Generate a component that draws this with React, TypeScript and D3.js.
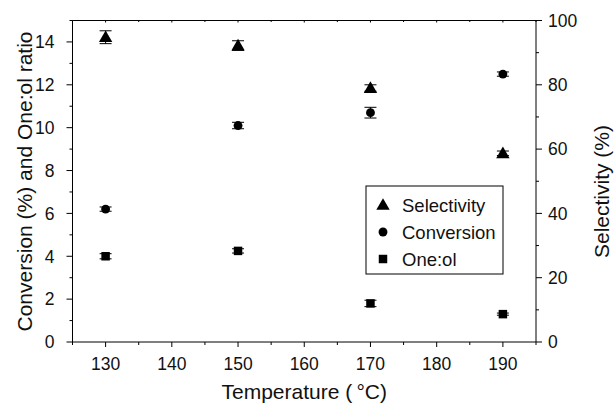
import * as d3 from "d3";
import React from "react";

// values
const temperatures = [130, 150, 170, 190];
const selectivity = [94.8, 92.2, 79.0, 58.7];
const selectivityErr = [2.0, 1.5, 1.0, 0.7];
const conversion = [6.2, 10.1, 10.7, 12.5];
const conversionErr = [0.1, 0.15, 0.25, 0.1];
const oneol = [4.0, 4.25, 1.8, 1.3];
const oneolErr = [0.12, 0.1, 0.15, 0.05];

const xMajor = [130, 140, 150, 160, 170, 180, 190];
const leftMajor = [0, 2, 4, 6, 8, 10, 12, 14];
const rightMajor = [0, 20, 40, 60, 80, 100];
const legendLabels = ["Selectivity", "Conversion", "One:ol"];

const font = "'Liberation Sans', Arial, sans-serif";

export default function App() {
  const width = 615;
  const height = 405;
  const marginLeft = 72.5;
  const marginRight = 79;
  const marginTop = 20.5;
  const marginBottom = 63;

  const x = d3.scaleLinear().domain([125, 195]).range([marginLeft, width - marginRight]);
  const yL = d3.scaleLinear().domain([0, 15]).range([height - marginBottom, marginTop]);
  const yR = d3.scaleLinear().domain([0, 100]).range([height - marginBottom, marginTop]);

  const x0 = x.range()[0];
  const x1 = x.range()[1];
  const yb = yL.range()[0];
  const yt = yL.range()[1];

  const xMinor = d3.range(125, 196, 5);
  const leftMinor = d3.range(0, 15.01, 1);
  const rightMinor = d3.range(0, 100.1, 10);

  const tri = d3.symbol(d3.symbolTriangle, 78)();
  const circ = d3.symbol(d3.symbolCircle, 62)();
  const sq = d3.symbol(d3.symbolSquare, 72)();

  const errBar = (cx: number, lo: number, hi: number, key: string) => (
    <g key={key} stroke="#000" strokeWidth={1}>
      <line x1={cx} x2={cx} y1={lo} y2={hi} />
      <line x1={cx - 6} x2={cx + 6} y1={lo} y2={lo} />
      <line x1={cx - 6} x2={cx + 6} y1={hi} y2={hi} />
    </g>
  );

  return (
    <svg
      width={width}
      height={height}
      style={{ position: "absolute", left: 0, top: 0, background: "#fff" }}
      fontFamily={font}
    >
      {/* frame */}
      <g stroke="#000" strokeWidth={1} fill="none">
        <line x1={x0} x2={x1} y1={yb} y2={yb} />
        <line x1={x0} x2={x1} y1={yt} y2={yt} />
        <line x1={x0} x2={x0} y1={yt} y2={yb} />
        <line x1={x1} x2={x1} y1={yt} y2={yb} />
      </g>

      {/* ticks */}
      <g stroke="#000" strokeWidth={1}>
        {xMinor.map((t) => {
          const major = xMajor.includes(t);
          return (
            <g key={t}>
              <line x1={x(t)} x2={x(t)} y1={yb} y2={yb + (major ? 5 : 3)} />
              <line x1={x(t)} x2={x(t)} y1={yt} y2={yt + (major ? 2 : 1.5)} />
            </g>
          );
        })}
        {leftMinor.map((t) => (
          <line key={"l" + t} x1={x0 - (leftMajor.includes(t) ? 6 : 3)} x2={x0} y1={yL(t)} y2={yL(t)} />
        ))}
        {rightMinor.map((t) => (
          <line key={"r" + t} x1={x1} x2={x1 + (rightMajor.includes(t) ? 6 : 3)} y1={yR(t)} y2={yR(t)} />
        ))}
      </g>

      {/* tick labels */}
      <g fontSize={17.5} fill="#111">
        {xMajor.map((t) => (
          <text key={t} x={x(t)} y={370} textAnchor="middle">{t}</text>
        ))}
        {leftMajor.map((t) => (
          <text key={t} x={x0 - 18} y={yL(t)} dy="0.36em" textAnchor="end">{t}</text>
        ))}
        {rightMajor.map((t) => (
          <text key={t} x={x1 + 12} y={yR(t)} dy="0.36em" textAnchor="start">{t}</text>
        ))}
      </g>

      {/* axis titles */}
      <g fontSize={21} fill="#111">
        <text x={(x0 + x1) / 2} y={399} textAnchor="middle">Temperature (&#8201;°C)</text>
        <text transform="translate(32, 181.5) rotate(-90)" textAnchor="middle">
          Conversion (%) and One:ol ratio
        </text>
        <text transform="translate(609, 191.5) rotate(-90)" textAnchor="middle">
          Selectivity (%)
        </text>
      </g>

      {/* selectivity (right axis) */}
      {temperatures.map((t, i) =>
        errBar(x(t), yR(selectivity[i] - selectivityErr[i]), yR(selectivity[i] + selectivityErr[i]), "se" + i)
      )}
      {temperatures.map((t, i) => (
        <path key={"s" + i} d={tri!} transform={`translate(${x(t)},${yR(selectivity[i]) + 1})`} fill="#000" />
      ))}

      {/* conversion */}
      {temperatures.map((t, i) =>
        errBar(x(t), yL(conversion[i] - conversionErr[i]), yL(conversion[i] + conversionErr[i]), "ce" + i)
      )}
      {temperatures.map((t, i) => (
        <path key={"c" + i} d={circ!} transform={`translate(${x(t)},${yL(conversion[i])})`} fill="#000" />
      ))}

      {/* one:ol */}
      {temperatures.map((t, i) =>
        errBar(x(t), yL(oneol[i] - oneolErr[i]), yL(oneol[i] + oneolErr[i]), "oe" + i)
      )}
      {temperatures.map((t, i) => (
        <path key={"o" + i} d={sq!} transform={`translate(${x(t)},${yL(oneol[i])})`} fill="#000" />
      ))}

      {/* legend */}
      <g transform="translate(366, 186)">
        <rect width={137} height={88} fill="#fff" stroke="#000" strokeWidth={1} />
        {legendLabels.map((label, i) => (
          <g key={label} transform={`translate(0, ${19 + i * 27})`}>
            <path d={[tri, circ, sq][i]!} transform={`translate(17, ${i === 0 ? 1 : 0})`} fill="#000" />
            <text x={36} dy="0.36em" fontSize={18.5} fill="#111">{label}</text>
          </g>
        ))}
      </g>
    </svg>
  );
}
